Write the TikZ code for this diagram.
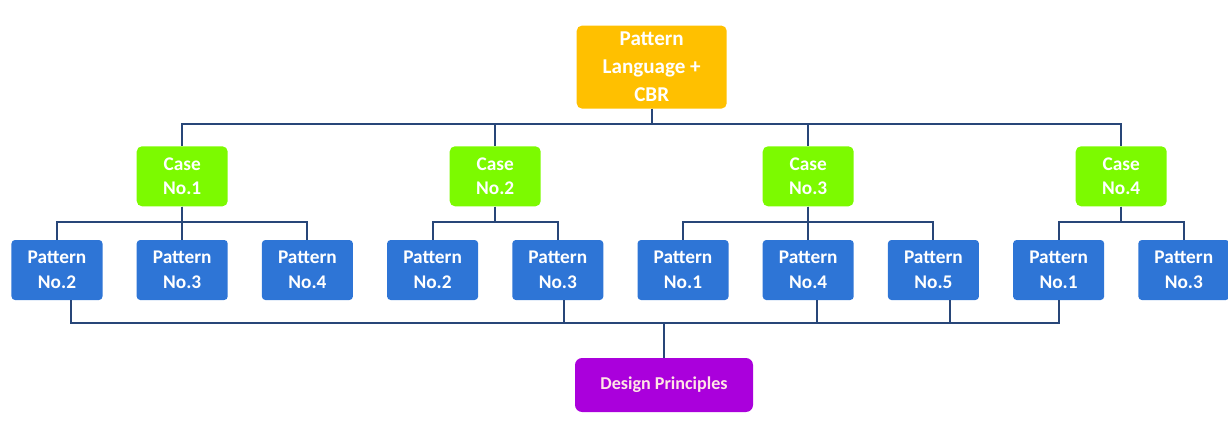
\documentclass[tikz,border=0pt]{standalone}
\usepackage{fontspec}
\setmainfont{Carlito}
\usetikzlibrary{positioning, calc}
\definecolor{cbrorange}{RGB}{255, 192, 0}
\definecolor{casegreen}{RGB}{124, 250, 0}
\definecolor{patblue}{RGB}{46, 117, 214}
\definecolor{dpurple}{RGB}{170, 0, 220}
\definecolor{linkblue}{RGB}{40, 70, 120}

\begin{document}
\begin{tikzpicture}[
    patbox/.style={rectangle, rounded corners=2pt, fill=patblue, text=white, font=\bfseries\fontsize{11}{14}\selectfont, align=center, minimum width=1.82cm, minimum height=1.2cm, inner sep=1pt},
    casebox/.style={rectangle, rounded corners=3pt, fill=casegreen, text=white, font=\bfseries\fontsize{11}{14}\selectfont, align=center, minimum width=1.82cm, minimum height=1.2cm, inner sep=1pt},
    link/.style={draw=linkblue, line width=1.1pt}
]
    \useasboundingbox (0,0) rectangle (24.56,-8.46);

    % Pattern row
    \node (pat1) [patbox] at (1.14,-5.4) {Pattern\\No.2};
    \node (pat2) [patbox, right=0.67cm of pat1] {Pattern\\No.3};
    \node (pat3) [patbox, right=0.67cm of pat2] {Pattern\\No.4};
    \node (pat4) [patbox, right=0.67cm of pat3] {Pattern\\No.2};
    \node (pat5) [patbox, right=0.67cm of pat4] {Pattern\\No.3};
    \node (pat6) [patbox, right=0.67cm of pat5] {Pattern\\No.1};
    \node (pat7) [patbox, right=0.67cm of pat6] {Pattern\\No.4};
    \node (pat8) [patbox, right=0.67cm of pat7] {Pattern\\No.5};
    \node (pat9) [patbox, right=0.67cm of pat8] {Pattern\\No.1};
    \node (pat10) [patbox, right=0.67cm of pat9] {Pattern\\No.3};

    % Cases
    \coordinate (mid2) at ($(pat4.north)!0.5!(pat5.north)$);
    \coordinate (mid4) at ($(pat9.north)!0.5!(pat10.north)$);
    \node (case1) [casebox, above=0.66cm of pat2] {Case\\No.1};
    \node (case2) [casebox, above=0.66cm of mid2] {Case\\No.2};
    \node (case3) [casebox, above=0.66cm of pat7] {Case\\No.3};
    \node (case4) [casebox, above=0.66cm of mid4] {Case\\No.4};

    % Root and result
    \coordinate (midtop) at ($(case2.north)!0.5!(case3.north)$);
    \node (cbr) [rectangle, rounded corners=3pt, fill=cbrorange, text=white, font=\bfseries\fontsize{12}{16}\selectfont, align=center, minimum width=3.0cm, minimum height=1.66cm, inner sep=1pt, above=0.74cm of midtop] {Pattern\\Language +\\CBR};
    \node (design) [rectangle, rounded corners=4pt, fill=dpurple, text=pink!40, font=\bfseries\fontsize{10.3}{12}\selectfont, minimum width=3.56cm, minimum height=1.08cm] at (13.28,-7.7) {Design Principles};

    % Root to cases
    \foreach \c in {case1, case2, case3, case4}
        \draw[link] (cbr.south) -- ++(0,-0.3) -| (\c.north);

    % Cases to patterns
    \foreach \p in {pat1, pat2, pat3}
        \draw[link] (case1.south) -- ++(0,-0.3) -| (\p.north);
    \foreach \p in {pat4, pat5}
        \draw[link] (case2.south) -- ++(0,-0.3) -| (\p.north);
    \foreach \p in {pat6, pat7, pat8}
        \draw[link] (case3.south) -- ++(0,-0.3) -| (\p.north);
    \foreach \p in {pat9, pat10}
        \draw[link] (case4.south) -- ++(0,-0.3) -| (\p.north);

    % Patterns to design principles
    \draw[link] (design.north) -- ++(0,0.7) -| ([xshift=0.28cm]pat1.south);
    \draw[link] (design.north) -- ++(0,0.7) -| ([xshift=0.12cm]pat5.south);
    \draw[link] (design.north) -- ++(0,0.7) -| ([xshift=0.18cm]pat7.south);
    \draw[link] (design.north) -- ++(0,0.7) -| ([xshift=0.34cm]pat8.south);
    \draw[link] (design.north) -- ++(0,0.7) -| (pat9.south);
\end{tikzpicture}
\end{document}
